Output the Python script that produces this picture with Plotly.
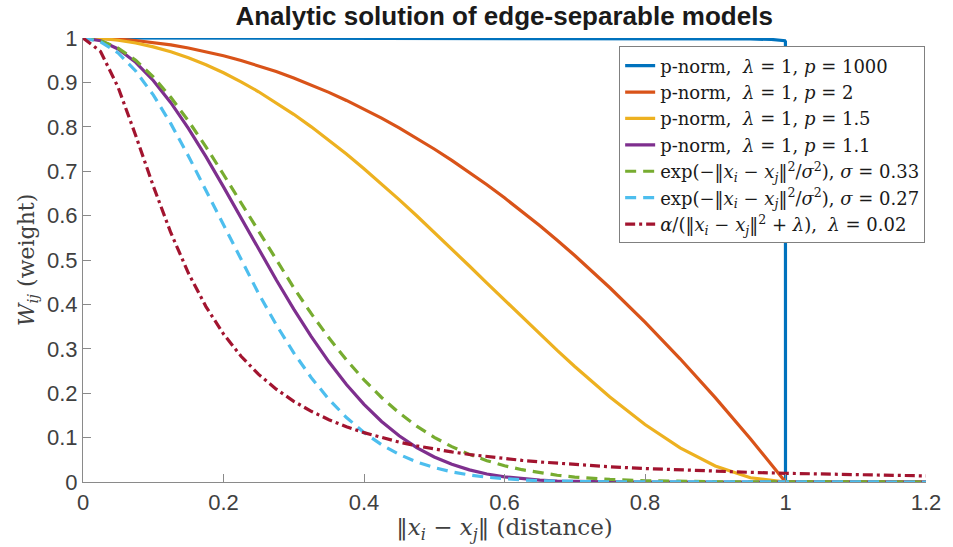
import plotly.graph_objects as go

# distance grid
x = [0, 0.025, 0.05, 0.075, 0.1, 0.125, 0.15, 0.175, 0.2, 0.225, 0.25, 0.275, 0.3,
     0.325, 0.35, 0.375, 0.4, 0.425, 0.45, 0.475, 0.5, 0.525, 0.55, 0.575, 0.6,
     0.625, 0.65, 0.675, 0.7, 0.75, 0.8, 0.85, 0.9, 0.95, 1.0, 1.05, 1.1, 1.15, 1.2]

# p-norm, p = 1000 (own grid: near-step at distance 1)
x_p1000 = [0, 0.5, 0.8, 0.9, 0.95, 0.98, 0.99, 0.995, 0.999, 0.9999, 1.0, 1.05, 1.2]
y_p1000 = [1.0, 0.9997, 0.999, 0.9983, 0.9977, 0.9968, 0.9961, 0.9954, 0.9938, 0.9915, 0.0, 0.0, 0.0]

y_p2 = [1, .9994, .9975, .9944, .99, .9844, .9775, .9694, .96, .9494, .9375, .9244, .91,
        .8944, .8775, .8594, .84, .8194, .7975, .7744, .75, .7244, .6975, .6694, .64,
        .6094, .5775, .5444, .51, .4375, .36, .2775, .19, .0975, 0, 0, 0, 0, 0]

y_p15 = [1, .9988, .9950, .9888, .9801, .9690, .9555, .9397, .9216, .9013, .8789, .8545, .8281,
         .7999, .7700, .7385, .7056, .6714, .6360, .5997, .5625, .5247, .4865, .4481, .4096,
         .3713, .3335, .2963, .2601, .1914, .1296, .0770, .0361, .0095, 0, 0, 0, 0, 0]

y_p11 = [1, .9938, .9753, .9452, .9044, .8543, .7964, .7327, .6648, .5948, .5245, .4555, .3894,
         .3275, .2707, .2197, .1749, .1364, .1041, .0775, .0563, .0398, .0273, .0181, .0115,
         .0071, .0041, .0023, .0012, .0003, 0, 0, 0, 0, 0, 0, 0, 0, 0]

y_exp033 = [1, .9943, .9773, .9497, .9123, .8663, .8133, .7549, .6926, .6282, .5633, .4994, .4376,
            .3791, .3247, .2749, .2301, .1904, .1557, .1260, .1007, .0796, .0622, .0480, .0367,
            .0277, .0207, .0152, .0111, .0057, .0028, .0013, .0006, .0003, .0001, 0, 0, 0, 0]

y_exp027 = [1, .9915, .9663, .9257, .8718, .8071, .7344, .6570, .5777, .4994, .4243, .3544, .2910,
            .2348, .1863, .1453, .1114, .0839, .0622, .0453, .0324, .0228, .0158, .0107, .0072,
            .0047, .0030, .0019, .0012, .0004, .0002, 0, 0, 0, 0, 0, 0, 0, 0]

y_rat = [1, .9697, .8889, .7805, .6667, .5614, .4706, .3951, .3333, .2832, .2424, .2092, .1818,
         .1592, .1404, .1245, .1111, .0997, .0899, .0814, .0741, .0677, .0620, .0570, .0526,
         .0487, .0452, .0421, .0392, .0343, .0303, .0269, .0241, .0217, .0196, .0178, .0163,
         .0149, .0137]

names = [
    "p-norm,  <i>λ</i> = 1, <i>p</i> = 1000",
    "p-norm,  <i>λ</i> = 1, <i>p</i> = 2",
    "p-norm,  <i>λ</i> = 1, <i>p</i> = 1.5",
    "p-norm,  <i>λ</i> = 1, <i>p</i> = 1.1",
    "exp(−‖<i>x<sub>i</sub></i> − <i>x<sub>j</sub></i>‖<sup>2</sup>/<i>σ</i><sup>2</sup>), <i>σ</i> = 0.33",
    "exp(−‖<i>x<sub>i</sub></i> − <i>x<sub>j</sub></i>‖<sup>2</sup>/<i>σ</i><sup>2</sup>), <i>σ</i> = 0.27",
    "<i>α</i>/(‖<i>x<sub>i</sub></i> − <i>x<sub>j</sub></i>‖<sup>2</sup> + <i>λ</i>),  <i>λ</i> = 0.02",
]
colors = ["#0072BD", "#D95319", "#EDB120", "#7E2F8E", "#77AC30", "#4DBEEE", "#A2142F"]
dashes = ["solid", "solid", "solid", "solid", "11px,7px", "11px,7px", "10px,4px,3px,4px"]

series = [(x_p1000, y_p1000), (x, y_p2), (x, y_p15), (x, y_p11),
          (x, y_exp033), (x, y_exp027), (x, y_rat)]

fig = go.Figure()
for (xs, ys), nm, c, d in zip(series, names, colors, dashes):
    fig.add_trace(go.Scatter(x=xs, y=ys, mode="lines", name=nm,
                             line=dict(color=c, width=3.2, dash=d)))

tick_font = dict(family="Liberation Sans, Arial, sans-serif", size=22, color="#404040")
serif = "DejaVu Serif, Liberation Serif, serif"

fig.update_layout(
    width=953, height=547,
    margin=dict(l=83, r=22, t=38, b=65),
    paper_bgcolor="white", plot_bgcolor="white",
    title=dict(text="<b>Analytic solution of edge-separable models</b>",
               x=0.529, xanchor="center", y=0.971, yanchor="middle",
               font=dict(family="Liberation Sans, Arial, sans-serif", size=26, color="#1a1a1a")),
    legend=dict(x=0.999, xanchor="right", y=0.981, yanchor="top",
                bgcolor="white", bordercolor="#808080", borderwidth=1,
                font=dict(family=serif, size=18, color="#1a1a1a"),
                tracegroupgap=0),
    showlegend=True,
)
fig.update_xaxes(range=[0, 1.2], tickvals=[0, 0.2, 0.4, 0.6, 0.8, 1.0, 1.2],
                 ticktext=["0", "0.2", "0.4", "0.6", "0.8", "1", "1.2"],
                 showgrid=False, zeroline=False, showline=True, linecolor="#8a8a8a", linewidth=1.2,
                 ticks="inside", ticklen=8, tickcolor="#8a8a8a", tickfont=tick_font,
                 title=dict(text="‖<i>x<sub>i</sub></i> − <i>x<sub>j</sub></i>‖ (distance)",
                            font=dict(family=serif, size=23, color="#404040"), standoff=4))
fig.update_yaxes(range=[0, 1], tickvals=[i / 10 for i in range(11)],
                 ticktext=["0", "0.1", "0.2", "0.3", "0.4", "0.5", "0.6", "0.7", "0.8", "0.9", "1"],
                 showgrid=False, zeroline=False, showline=True, linecolor="#8a8a8a", linewidth=1.2,
                 ticks="inside", ticklen=8, tickcolor="#8a8a8a", tickfont=tick_font,
                 title=dict(text="<i>W<sub>ij</sub></i> (weight)",
                            font=dict(family=serif, size=22, color="#404040"), standoff=6))

fig.write_html("out.html")
